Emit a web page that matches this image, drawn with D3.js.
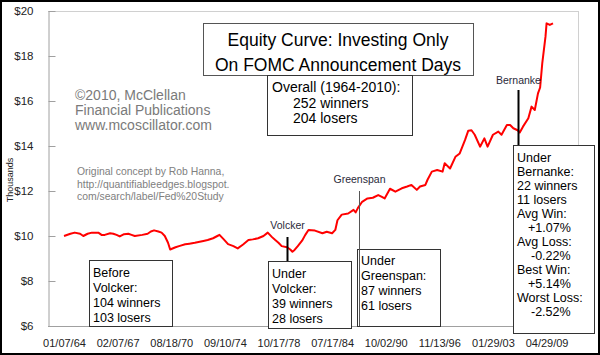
<!DOCTYPE html>
<html><head><meta charset="utf-8">
<script src="https://cdn.jsdelivr.net/npm/d3@7"></script>
<style>
html,body{margin:0;padding:0;background:#fff;}
svg{display:block;font-family:"Liberation Sans",Arial,sans-serif;}
</style></head>
<body>
<svg id="c" width="600" height="355"></svg>
<script>
// FOMC event index (x) and equity in thousands of dollars (y)
const eventIndex = [0,6,10,15,18,22,26,32,35,38,43,46,49,52,56,60,63,66,73,78,81,84,88,91,94,97,99,104,108,113,117,122,130,134,139,143,145,149,153,158,162,167,172,176,181,186,190,194,197,200,203,208,211,213,215,218,222,225,228,234,241,245,250,253,255,259,265,270,272,274,278,283,288,293,296,299,304,309,315,320,324,329,332,337,339,343,348,353,355,360,365,369,374,377,380,383,388,392,395,400,405,408,413,416,419,423,425,428,433,436,439,442,444,446,449,450,453,456];
const equity = [10.0,10.1,10.15,10.1,10.0,10.1,10.15,10.15,10.05,10.05,10.12,10.1,10.05,9.98,10.08,10.1,10.05,10.0,10.05,10.1,10.2,10.25,10.2,10.15,10.0,9.7,9.4,9.5,9.56,9.63,9.66,9.7,9.78,9.82,9.9,10.0,10.05,9.85,9.64,9.55,9.45,9.62,9.82,9.85,9.9,10.0,10.15,9.95,9.82,9.7,9.55,9.5,9.4,9.3,9.38,9.55,9.79,10.05,10.27,10.24,10.12,10.19,10.12,10.27,10.7,10.95,11.0,11.16,11.05,11.24,11.52,11.67,11.7,11.82,11.75,11.67,12.1,11.97,12.12,12.2,12.27,12.05,12.2,12.27,12.5,12.86,12.93,12.86,13.23,13.0,13.52,13.67,14.27,14.68,14.7,14.5,13.97,14.34,13.97,14.5,14.64,14.5,14.93,14.93,14.79,14.7,14.6,14.86,15.23,15.75,15.6,16.34,16.6,17.68,18.86,19.45,19.38,19.45];
const xTickIndex = [0,50,100,150,200,250,300,350,400,450];
const xTickLabels = ["01/07/64","02/07/67","08/18/70","09/10/74","10/17/78","07/17/84","10/02/90","11/13/96","01/29/03","04/29/09"];
const yTicks = [6,8,10,12,14,16,18,20];
const chairStart = [{name:"Volcker", idx:208},{name:"Greenspan", idx:275},{name:"Bernanke", idx:423}];
const titleLines = ["Equity Curve: Investing Only","On FOMC Announcement Days"];
const overallLines = ["Overall (1964-2010):","252 winners","204 losers"];
const beforeVolcker = ["Before","Volcker:","104 winners","103 losers"];
const underVolcker = ["Under","Volcker:","39 winners","28 losers"];
const underGreenspan = ["Under","Greenspan:","87 winners","61 losers"];
const underBernanke = ["Under","Bernanke:","22 winners","11 losers","Avg Win:","  +1.07%","Avg Loss:","  -0.22%","Best Win:","  +5.14%","Worst Loss:","  -2.52%"];
const creditLines = ["\u00A92010, McClellan","Financial Publications","www.mcoscillator.com"];
const conceptLines = ["Original concept by Rob Hanna,","http://quantifiableedges.blogspot.","com/search/label/Fed%20Study"];

const svg = d3.select("#c");
const plot = {l:48, r:578, t:11, b:326};
const x = d3.scaleLinear().domain([0,456]).range([64,553]);
const y = d3.scaleLinear().domain([6,20]).range([plot.b, plot.t]);

svg.append("rect").attr("x",1).attr("y",1).attr("width",598).attr("height",353)
  .attr("fill","#fff").attr("stroke","#000").attr("stroke-width",2);

// plot frame
svg.append("line").attr("x1",plot.l).attr("x2",plot.r).attr("y1",plot.t+0.5).attr("y2",plot.t+0.5).attr("stroke","#d0d0d0");
svg.append("line").attr("x1",plot.r+0.5).attr("x2",plot.r+0.5).attr("y1",plot.t).attr("y2",plot.b).attr("stroke","#d0d0d0");

// y axis
const yAxis = d3.axisLeft(y).tickValues(yTicks).tickFormat(d=>"$"+d).tickSizeInner(-7).tickSizeOuter(0).tickPadding(15);
const ya = svg.append("g").attr("transform",`translate(${plot.l+0.5},0)`).call(yAxis);
ya.select(".domain").attr("stroke","#a0a0a0");
ya.selectAll(".tick line").attr("stroke","#a0a0a0");
ya.selectAll(".tick text").attr("font-size","11.5px").attr("fill","#222").attr("font-family","Liberation Sans, Arial, sans-serif");

// x axis
const xAxis = d3.axisBottom(x).tickValues(xTickIndex).tickFormat((d,i)=>xTickLabels[i]).tickSize(0).tickPadding(13);
const xa = svg.append("g").attr("transform",`translate(0,${plot.b+0.5})`).call(xAxis);
xa.select(".domain").remove();
xa.selectAll(".tick text").attr("font-size","11px").attr("fill","#222").attr("font-family","Liberation Sans, Arial, sans-serif");
svg.append("line").attr("x1",plot.l).attr("x2",plot.r).attr("y1",plot.b+0.5).attr("y2",plot.b+0.5).attr("stroke","#a0a0a0");

svg.append("text").attr("transform","translate(13,180) rotate(-90)").attr("text-anchor","middle")
  .attr("font-size","9px").attr("fill","#222").text("Thousands");

// credits
svg.append("g").selectAll("text").data(creditLines).join("text")
  .attr("x",75).attr("y",(d,i)=>100+i*15).attr("font-size","14px").attr("fill","#7a7a7a").text(d=>d);
svg.append("g").selectAll("text").data(conceptLines).join("text")
  .attr("x",77).attr("y",(d,i)=>175+i*12.5).attr("font-size","10.4px").attr("fill","#808080").text(d=>d);

// curve
const line = d3.line().x((d,i)=>x(eventIndex[i])).y(d=>y(d));
svg.append("path").datum(equity).attr("d",line).attr("fill","none").attr("stroke","#ff0000").attr("stroke-width",2).attr("stroke-linejoin","round");

// boxes
function box(x0,y0,w,h,lines,opts){
  const g = svg.append("g");
  g.append("rect").attr("x",x0+0.5).attr("y",y0+0.5).attr("width",w).attr("height",h)
    .attr("fill","#fff").attr("stroke",opts.stroke||"#333").attr("stroke-width",1);
  g.selectAll("text").data(lines).join("text")
    .attr("x",(d,i)=>opts.anchor==="middle"? x0+w/2 : x0+opts.pad + (opts.indent? opts.indent(d,i):0))
    .attr("text-anchor",opts.anchor||"start")
    .attr("y",(d,i)=>y0+opts.first+i*opts.lh)
    .attr("font-size",opts.fs).attr("fill","#000").attr("xml:space","preserve")
    .text(d=>d.trim());
  return g;
}
box(203,23,270,52,titleLines,{anchor:"middle",first:23,lh:25,fs:"17.5px",stroke:"#555"});
box(267,75,145,60,overallLines,{pad:5,first:17,lh:15.5,fs:"14px",indent:(d,i)=>i>0?21:0});
box(89,260,83,66,beforeVolcker,{pad:4,first:17,lh:15,fs:"12.5px"});
box(268,261,83,67,underVolcker,{pad:4,first:17,lh:15,fs:"12.5px"});
box(357,249,83,77,underGreenspan,{pad:4,first:16,lh:15,fs:"12.5px"});
box(513,145,81,188,underBernanke,{pad:4,first:17,lh:14,fs:"12.5px",indent:(d,i)=>d.startsWith("  ")?(d.includes("-")?14:11):0});

// chair markers
const labelY = {Volcker:229, Greenspan:183, Bernanke:84};
const lineTop = {Volcker:237, Greenspan:191, Bernanke:90};
const lineBot = {Volcker:261, Greenspan:326, Bernanke:145};
chairStart.forEach(c=>{
  const cx = Math.round(x(c.idx))+0.5;
  svg.append("line").attr("x1",cx).attr("x2",cx).attr("y1",lineTop[c.name]).attr("y2",lineBot[c.name])
    .attr("stroke",c.name==="Greenspan"?"#555":"#000").attr("stroke-width",c.name==="Greenspan"?1:2);
  svg.append("text").attr("x",cx).attr("y",labelY[c.name]).attr("text-anchor","middle")
    .attr("font-size","10.5px").attr("fill","#2a2a3a").text(c.name);
});
</script>
</body></html>
